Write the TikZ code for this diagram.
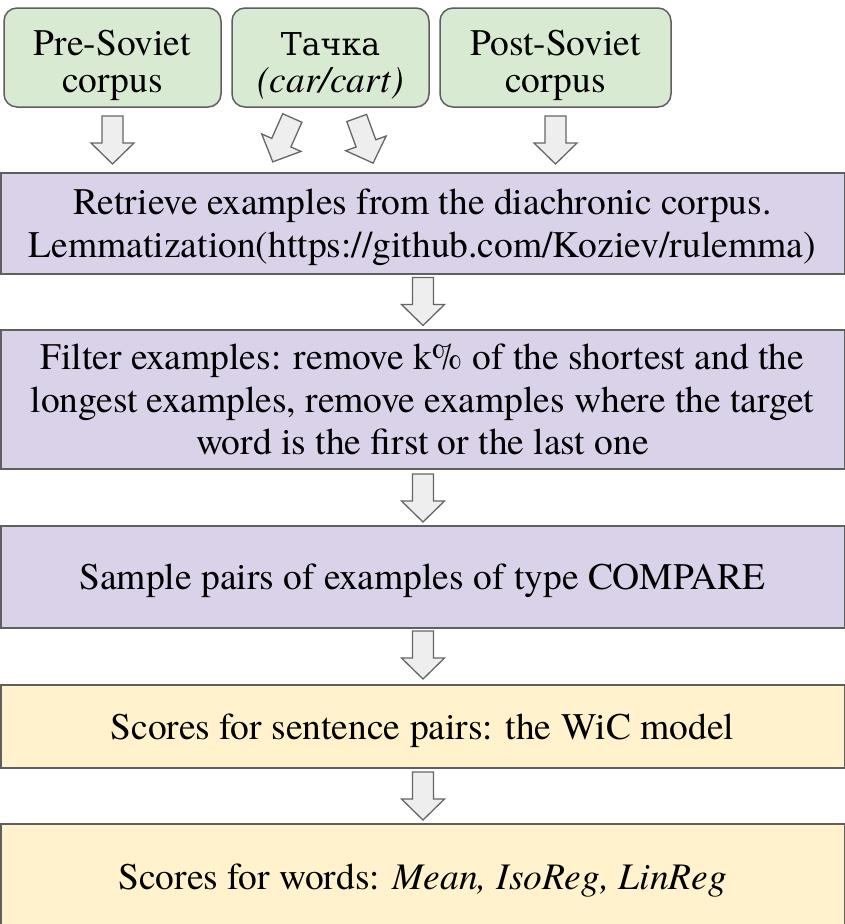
\documentclass[tikz,border=0pt]{standalone}
\usepackage{fontspec}
\newfontfamily\tgt{TeX Gyre Termes}
\newfontfamily\cyr{DejaVu Serif}[Scale=0.84]
\newcommand\ls{\rule[-8.1pt]{0pt}{41.5pt}}
\newcommand\gtop{\rule{0pt}{41.5pt}}
\newcommand\gbot{\rule[-9pt]{0pt}{9pt}}
\definecolor{greenfill}{HTML}{D9EAD3}
\definecolor{purplefill}{HTML}{D9D2E9}
\definecolor{yellowfill}{HTML}{FFF2CC}
\definecolor{edgegray}{HTML}{5F5F5F}
\definecolor{arrowfill}{HTML}{EEEEEE}
\definecolor{arrowedge}{HTML}{666666}
\begin{document}
\begin{tikzpicture}[x=1pt,y=-1pt,
  box/.style={draw=edgegray, line width=1.5pt, align=center, inner sep=0pt,
    font=\tgt\fontsize{37.5}{41.5}\selectfont},
  greenbox/.style={box, fill=greenfill, rounded corners=13pt, minimum height=99,
    font=\tgt\fontsize{37.5}{37.5}\selectfont},
  purplebox/.style={box, fill=purplefill, minimum width=843.5},
  yellowbox/.style={box, fill=yellowfill, minimum width=843.5},
  barrow/.pic={\draw[draw=arrowedge, fill=arrowfill, line width=1.3pt, line join=miter]
     (-10.5,0) -- (10.5,0) -- (10.5,27) -- (21.5,27) -- (0,48) -- (-21.5,27) -- (-10.5,27) -- cycle;}
]
\useasboundingbox (0,0) rectangle (845,924);
\fill[white] (0,0) rectangle (845,924);

\node[greenbox, minimum width=217] (pre) at (112.5,57.5) {\gtop Pre-Soviet\\\gbot corpus};
\node[greenbox, minimum width=197] (word) at (330.5,57.5) {\gtop{\cyr Тачка}\\\gbot\textit{(car/cart)}};
\node[greenbox, minimum width=231] (post) at (555.5,57.5) {\gtop Post-Soviet\\\gbot corpus};

\node[purplebox, minimum height=101] (retrieve) at (422.5,223.5)
  {\ls Retrieve examples from the diachronic corpus.\\\ls Lemmatization(https://github.com/Koziev/rulemma)};
\node[purplebox, minimum height=139] (filter) at (422.5,399.5)
  {\ls Filter examples: remove k\% of the shortest and the\\\ls longest examples, remove examples where the target\\\ls word is the first or the last one};
\node[purplebox, minimum height=102] (sample) at (422.5,577)
  {\ls Sample pairs of examples of type COMPARE};
\node[yellowbox, minimum height=83] (pairs) at (422.5,726.5)
  {\ls Scores for sentence pairs: the WiC model};
\node[yellowbox, minimum height=106] (words) at (422.5,877)
  {\ls Scores for words: \textit{Mean, IsoReg, LinReg}};

\pic at (112.5,116) {barrow};
\pic[rotate=-24] at (292.3,118) {barrow};
\pic[rotate=20] at (356.7,118) {barrow};
\pic at (555.5,116) {barrow};
\pic at (423,277.5) {barrow};
\pic at (423,474) {barrow};
\pic at (423,631) {barrow};
\pic at (423,772) {barrow};
\end{tikzpicture}
\end{document}
